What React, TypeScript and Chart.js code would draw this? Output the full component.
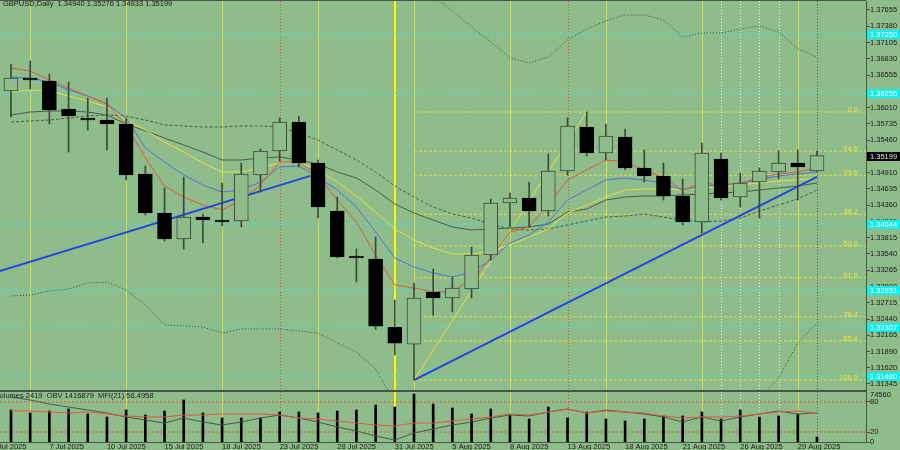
import { useEffect, useRef } from 'react';
import { Chart, registerables } from 'chart.js';

Chart.register(...registerables);

// ---------- data ----------
const DATES = ['3 Jul', '4 Jul', '7 Jul', '8 Jul', '9 Jul', '10 Jul', '11 Jul', '14 Jul', '15 Jul', '16 Jul', '17 Jul', '18 Jul', '21 Jul', '22 Jul', '23 Jul', '24 Jul', '25 Jul', '28 Jul', '29 Jul', '30 Jul', '31 Jul', '1 Aug', '4 Aug', '5 Aug', '6 Aug', '7 Aug', '8 Aug', '11 Aug', '12 Aug', '13 Aug', '14 Aug', '15 Aug', '18 Aug', '19 Aug', '20 Aug', '21 Aug', '22 Aug', '25 Aug', '26 Aug', '27 Aug', '28 Aug', '29 Aug', '1 Sep'];
const OPEN = [1.36288, 1.36508, 1.36457, 1.35985, 1.35833, 1.35799, 1.35732, 1.34888, 1.34230, 1.33791, 1.34163, 1.34112, 1.34095, 1.34871, 1.35276, 1.35765, 1.35074, 1.34264, 1.33505, 1.33454, 1.32302, 1.32015, 1.32897, 1.32796, 1.32948, 1.33521, 1.34399, 1.34483, 1.34264, 1.34939, 1.35681, 1.35242, 1.35512, 1.34989, 1.34854, 1.34517, 1.34078, 1.35141, 1.34500, 1.34753, 1.34922, 1.35074, 1.34940];
const HIGH = [1.36744, 1.36795, 1.36575, 1.36440, 1.36170, 1.36170, 1.35833, 1.35023, 1.34652, 1.34837, 1.34213, 1.34736, 1.35074, 1.35310, 1.35833, 1.35867, 1.35124, 1.34500, 1.33623, 1.33825, 1.32762, 1.33049, 1.33285, 1.33150, 1.33656, 1.34466, 1.34567, 1.34753, 1.35225, 1.35833, 1.35934, 1.35732, 1.35647, 1.35293, 1.35074, 1.34804, 1.35411, 1.35242, 1.34905, 1.34989, 1.35276, 1.35293, 1.35276];
const LOW = [1.35850, 1.36322, 1.35732, 1.35259, 1.35630, 1.35293, 1.34787, 1.34196, 1.33758, 1.33623, 1.33724, 1.34011, 1.33994, 1.34584, 1.35107, 1.35006, 1.34146, 1.33471, 1.33066, 1.32268, 1.31834, 1.31412, 1.32504, 1.32560, 1.32796, 1.33437, 1.33994, 1.33994, 1.34179, 1.34871, 1.35192, 1.35124, 1.34956, 1.34753, 1.34449, 1.34028, 1.33893, 1.34449, 1.34331, 1.34146, 1.34804, 1.34449, 1.34933];
const CLOSE = [1.36508, 1.36474, 1.35968, 1.35867, 1.35799, 1.35732, 1.34871, 1.34230, 1.33791, 1.34163, 1.34112, 1.34078, 1.34888, 1.35276, 1.35765, 1.35074, 1.34331, 1.33488, 1.33471, 1.32319, 1.32032, 1.32796, 1.32796, 1.32965, 1.33521, 1.34399, 1.34483, 1.34264, 1.34939, 1.35698, 1.35242, 1.35529, 1.34989, 1.34854, 1.34517, 1.34078, 1.35242, 1.34483, 1.34736, 1.34939, 1.35074, 1.35006, 1.35199];
const VOLUME = [47712, 43239, 46221, 49203, 41748, 37275, 47712, 40257, 46221, 62622, 43239, 35784, 35784, 35784, 44730, 44730, 43239, 46221, 47712, 55167, 52185, 71568, 56658, 50694, 41748, 49203, 40257, 34293, 52185, 35784, 44730, 34293, 31311, 34293, 38766, 38766, 44730, 34293, 47712, 37275, 38766, 41748, 7455];
const VOL_MAX = 74560;

const MA_RED = [1.36676, 1.36626, 1.36474, 1.36339, 1.36204, 1.36069, 1.35715, 1.35158, 1.34685, 1.34500, 1.34365, 1.34281, 1.34449, 1.34702, 1.35090, 1.35090, 1.34871, 1.34449, 1.34078, 1.33521, 1.33015, 1.32965, 1.32897, 1.32914, 1.33100, 1.33471, 1.33909, 1.33994, 1.34365, 1.34787, 1.34955, 1.35124, 1.35090, 1.34955, 1.34821, 1.34618, 1.34736, 1.34702, 1.34736, 1.34821, 1.34888, 1.34922, 1.34989];
const MA_BLUE = [1.36525, 1.36508, 1.36440, 1.36305, 1.36204, 1.36069, 1.35833, 1.35327, 1.35090, 1.34871, 1.34702, 1.34584, 1.34618, 1.34753, 1.35006, 1.35023, 1.34837, 1.34618, 1.34331, 1.33909, 1.33471, 1.33319, 1.33218, 1.33150, 1.33235, 1.33437, 1.33724, 1.33859, 1.34078, 1.34449, 1.34618, 1.34787, 1.34821, 1.34787, 1.34736, 1.34618, 1.34685, 1.34702, 1.34736, 1.34787, 1.34854, 1.34888, 1.34922];
const MA_YELLOW = [1.36272, 1.36305, 1.36288, 1.36204, 1.36120, 1.36018, 1.35799, 1.35630, 1.35428, 1.35259, 1.35074, 1.34922, 1.34922, 1.34989, 1.35074, 1.35090, 1.34955, 1.34753, 1.34517, 1.34247, 1.33960, 1.33774, 1.33639, 1.33538, 1.33538, 1.33589, 1.33690, 1.33825, 1.33960, 1.34230, 1.34365, 1.34500, 1.34618, 1.34635, 1.34635, 1.34618, 1.34652, 1.34669, 1.34702, 1.34736, 1.34770, 1.34787, 1.34821];
const MA_GRAY = [1.35883, 1.35934, 1.35951, 1.35951, 1.35934, 1.35883, 1.35732, 1.35614, 1.35495, 1.35377, 1.35259, 1.35124, 1.35124, 1.35158, 1.35175, 1.35124, 1.35057, 1.34922, 1.34821, 1.34618, 1.34382, 1.34230, 1.34112, 1.33994, 1.33943, 1.33960, 1.33977, 1.33994, 1.34044, 1.34247, 1.34297, 1.34449, 1.34500, 1.34517, 1.34517, 1.34534, 1.34551, 1.34567, 1.34584, 1.34618, 1.34652, 1.34685, 1.34736];
const MA_DASHED = [1.35765, 1.35782, 1.35799, 1.35833, 1.35867, 1.35883, 1.35867, 1.35799, 1.35715, 1.35698, 1.35681, 1.35681, 1.35698, 1.35698, 1.35681, 1.35580, 1.35462, 1.35293, 1.35124, 1.34922, 1.34685, 1.34500, 1.34331, 1.34213, 1.34146, 1.34044, 1.33960, 1.33943, 1.33960, 1.34028, 1.34095, 1.34162, 1.34179, 1.34213, 1.34162, 1.34112, 1.34078, 1.34095, 1.34146, 1.34264, 1.34365, 1.34466, 1.34618];
const BAND_UPPER = [null, null, null, null, null, null, null, null, null, null, null, null, null, null, null, null, null, null, null, null, 1.38414, 1.38144, 1.37891, 1.37638, 1.37368, 1.37115, 1.36845, 1.36761, 1.36862, 1.37149, 1.37334, 1.37469, 1.37571, 1.37571, 1.37486, 1.37199, 1.37267, 1.37267, 1.37334, 1.37385, 1.37284, 1.36997, 1.36862];
const BAND_LOWER = [1.32830, 1.32846, 1.32914, 1.32948, 1.33049, 1.33066, 1.32931, 1.32678, 1.32340, 1.32323, 1.32307, 1.32205, 1.32273, 1.32273, 1.32273, 1.32239, 1.32205, 1.32037, 1.31885, 1.31598, 1.31041, null, null, null, null, null, null, null, null, null, null, null, null, null, null, null, null, null, null, 1.31092, 1.31446, 1.32037, 1.32374];

const MFI = [90, 84, 76, 70, 64, 58, 50, 44, 38, 48, 40, 34, 40, 48, 54, 48, 40, 30, 22, 12, 4, 18, 26, 34, 40, 48, 54, 52, 60, 66, 58, 64, 60, 56, 50, 40, 50, 42, 50, 56, 62, 56, 58.5];
const OBV_LINE = [62, 62, 60, 58, 60, 56, 52, 50, 50, 54, 54, 56, 56, 56, 54, 48, 46, 42, 38, 34, 32, 38, 38, 42, 46, 50, 56, 54, 60, 66, 58, 62, 60, 58, 52, 48, 50, 50, 52, 56, 60, 62, 58];
const MFI_LEVELS = [80, 20];
const MFI_TICKS = [0, 20, 80];

const PRICE_TICKS = [1.37655, 1.37380, 1.37105, 1.36830, 1.36555, 1.36280, 1.36010, 1.35735, 1.35460, 1.35185, 1.34910, 1.34635, 1.34360, 1.34085, 1.33815, 1.33540, 1.33265, 1.32990, 1.32715, 1.32440, 1.32165, 1.31890, 1.31620, 1.31345];
const CYAN_LEVELS = [1.37250, 1.36255, 1.34044, 1.32931, 1.32307, 1.31480];
const FIB_HIGH = 1.35934;
const FIB_LOW = 1.31412;
const FIB_RATIOS = [0, 14.6, 23.6, 38.2, 50, 61.8, 76.4, 85.4, 100];
const FIB_START_BAR = 21;
const FIB_HIGH_BAR = 30;
const TREND_A_X = [-1, 15.6];
const TREND_A_Y = [1.33209, 1.34857];
const TREND_B_X = [21, 42];
const TREND_B_Y = [1.31412, 1.34840];

const AXIS_DATE_INDEX = [-1, 2, 5, 8, 11, 14, 17, 20, 23, 26, 29, 32, 35, 38, 41];
const AXIS_DATES = ['2 Jul 2025', '7 Jul 2025', '10 Jul 2025', '15 Jul 2025', '18 Jul 2025', '23 Jul 2025', '28 Jul 2025', '31 Jul 2025', '5 Aug 2025', '8 Aug 2025', '13 Aug 2025', '18 Aug 2025', '21 Aug 2025', '26 Aug 2025', '29 Aug 2025'];

const FRIDAY_BARS = [1, 6, 11, 16, 21, 26, 31, 36, 41];
const MONTH_END_BARS = [20];
const RED_MARK_BARS = [14, 29];
const WHITE_MARK_BARS = [37, 38, 39, 40];
const CURRENT_BAR = 42;

const TITLE = 'GBPUSD,Daily  1.34940 1.35276 1.34933 1.35199';
const SUB_TITLE = 'Volumes 2419  OBV 1416879  MFI(21) 58.4958';

// ---------- layout / style ----------
const XMIN = -0.5732;
const XMAX = 44.554;
const YMIN = 1.312268;
const YMAX = 1.378068;

const BG = '#8fbc8b';
const DARK = '#465646';
const TEXT = '#1a1a1a';
const WICK = '#3a4a3a';
const FONT = '"Liberation Sans", Arial, sans-serif';
const FONT_SIZE = 7.5;

function drawVerticals(ctx: any, xs: any, top: number, bottom: number) {
  const v = (i: number, color: string, width: number, dash: number[]) => {
    const px = Math.round(xs.getPixelForValue(i)) + (width % 2 ? 0.5 : 0);
    ctx.save();
    ctx.strokeStyle = color;
    ctx.lineWidth = width;
    ctx.setLineDash(dash);
    ctx.beginPath();
    ctx.moveTo(px, top);
    ctx.lineTo(px, bottom);
    ctx.stroke();
    ctx.restore();
  };
  FRIDAY_BARS.forEach((i) => v(i, '#dcdc3c', 1, []));
  MONTH_END_BARS.forEach((i) => v(i, '#ffff00', 2, []));
  RED_MARK_BARS.forEach((i) => v(i, '#d8503a', 1, [1, 2]));
  WHITE_MARK_BARS.forEach((i) => v(i, '#e6f2e0', 1, [1, 2]));
  v(CURRENT_BAR, '#4a5a4a', 1, [1, 2]);
}

const mainDecor = {
  id: 'mainDecor',
  beforeDatasetsDraw(chart: any) {
    const { ctx, chartArea, scales } = chart;
    drawVerticals(ctx, scales.x, chartArea.top, chartArea.bottom);
  },
  afterDraw(chart: any) {
    const { ctx, chartArea, scales } = chart;
    const ys = scales.y;
    ctx.save();
    ctx.font = `${FONT_SIZE}px ${FONT}`;
    // fib labels
    ctx.fillStyle = '#e6e640';
    ctx.textAlign = 'right';
    ctx.textBaseline = 'middle';
    FIB_RATIOS.forEach((r) => {
      const y = ys.getPixelForValue(FIB_HIGH - (FIB_HIGH - FIB_LOW) * r / 100);
      ctx.fillText(r.toFixed(1), chartArea.right - 8, y - 2);
    });
    // cyan level labels
    ctx.textAlign = 'left';
    CYAN_LEVELS.forEach((p) => {
      const y = Math.round(ys.getPixelForValue(p));
      ctx.fillStyle = '#10eeee';
      ctx.fillRect(chartArea.right + 1, y - 4, 34, 9);
      ctx.fillStyle = '#ffffff';
      ctx.fillText(p.toFixed(5), chartArea.right + 4, y + 0.5);
    });
    // current price
    const last = CLOSE[CLOSE.length - 1];
    const yc = Math.round(ys.getPixelForValue(last));
    ctx.fillStyle = '#000000';
    ctx.fillRect(chartArea.right + 1, yc - 4, 34, 9);
    ctx.fillStyle = '#e8e8e8';
    ctx.fillText(last.toFixed(5), chartArea.right + 4, yc + 0.5);
    // title
    ctx.fillStyle = TEXT;
    ctx.fillText(TITLE, 3, 4);
    // frame
    ctx.fillStyle = DARK;
    ctx.fillRect(0, 0, chartArea.right, 1);
    ctx.fillRect(0, chartArea.bottom - 1, chartArea.right + 1, 2);
    ctx.restore();
  },
};

const subDecor = {
  id: 'subDecor',
  beforeDatasetsDraw(chart: any) {
    const { ctx, chartArea, scales } = chart;
    drawVerticals(ctx, scales.x, chartArea.top, chartArea.bottom);
  },
  afterDraw(chart: any) {
    const { ctx, chartArea, scales } = chart;
    ctx.save();
    ctx.font = `${FONT_SIZE}px ${FONT}`;
    ctx.fillStyle = TEXT;
    ctx.textAlign = 'left';
    ctx.textBaseline = 'middle';
    ctx.fillText(SUB_TITLE, -5, 3.5);
    ctx.fillText(String(VOL_MAX), chartArea.right + 4, scales.yv.getPixelForValue(VOL_MAX) + 3);
    ctx.restore();
  },
};

const lineDs = (data: any[], color: string, extra: any = {}) => ({
  type: 'line',
  data,
  borderColor: color,
  borderWidth: 1,
  pointRadius: 0,
  fill: false,
  tension: 0,
  spanGaps: false,
  order: 6,
  ...extra,
});

export default function App() {
  const mainRef = useRef<HTMLCanvasElement>(null);
  const subRef = useRef<HTMLCanvasElement>(null);

  useEffect(() => {
    Chart.defaults.font.family = FONT;
    Chart.defaults.font.size = FONT_SIZE;
    const idx = DATES.map((_, i) => i);
    const series = (arr: (number | null)[]) => idx.map((i) => ({ x: i, y: arr[i] }));
    const flat = (p: number, from: number) => [{ x: from, y: p }, { x: XMAX, y: p }];
    const tickFont = { family: FONT, size: FONT_SIZE };

    const mainDatasets: any[] = [
      {
        type: 'bar',
        data: idx.map((i) => ({ x: i, y: [OPEN[i], CLOSE[i]] })),
        backgroundColor: idx.map((i) => (CLOSE[i] >= OPEN[i] ? BG : '#000000')),
        borderColor: idx.map((i) => (CLOSE[i] >= OPEN[i] ? WICK : '#000000')),
        borderWidth: 1,
        borderSkipped: false,
        grouped: false,
        barThickness: 14,
        maxBarThickness: 14,
        order: 0,
      },
      {
        type: 'bar',
        data: idx.map((i) => ({ x: i, y: [LOW[i], HIGH[i]] })),
        backgroundColor: WICK,
        grouped: false,
        barThickness: 1,
        maxBarThickness: 1,
        order: 1,
      },
      lineDs(TREND_A_X.map((x, k) => ({ x, y: TREND_A_Y[k] })), '#2244e6', { borderWidth: 2, order: 3 }),
      lineDs(TREND_B_X.map((x, k) => ({ x, y: TREND_B_Y[k] })), '#2244e6', { borderWidth: 2, order: 3 }),
      lineDs(series(MA_RED), '#e0583c', { order: 4 }),
      lineDs(series(MA_BLUE), '#4c74dc', { order: 5 }),
      lineDs(series(MA_YELLOW), '#e2e23a', { order: 6 }),
      lineDs(series(MA_GRAY), '#4a5a4a', { order: 7 }),
      lineDs(series(MA_DASHED), '#4a5a4a', { order: 7, borderDash: [3, 2] }),
      lineDs(series(BAND_UPPER), '#3c4c3c', { order: 7, borderDash: [1, 2] }),
      lineDs(series(BAND_LOWER), '#3c4c3c', { order: 7, borderDash: [1, 2] }),
      lineDs([{ x: FIB_START_BAR, y: FIB_LOW }, { x: FIB_HIGH_BAR, y: FIB_HIGH }], '#e2e23a', { order: 8 }),
      ...FIB_RATIOS.map((r) => lineDs(flat(FIB_HIGH - (FIB_HIGH - FIB_LOW) * r / 100, FIB_START_BAR), '#dede3c', { order: 9, borderDash: [3, 2] })),
      ...CYAN_LEVELS.map((p) => lineDs(flat(p, XMIN), '#3ee6d2', { order: 9, borderDash: [4, 3] })),
    ];

    const main = new Chart(mainRef.current as HTMLCanvasElement, {
      type: 'bar',
      data: { datasets: mainDatasets },
      options: {
        responsive: false,
        animation: false,
        devicePixelRatio: 1,
        layout: { padding: { top: 1, bottom: 1, left: 0, right: 0 } },
        plugins: { legend: { display: false }, tooltip: { enabled: false } },
        scales: {
          x: { type: 'linear', min: XMIN, max: XMAX, offset: false, display: false },
          y: {
            type: 'linear',
            position: 'right',
            min: YMIN,
            max: YMAX,
            afterBuildTicks: (s: any) => { s.ticks = PRICE_TICKS.map((v) => ({ value: v })); },
            afterFit: (s: any) => { s.width = 34; s.paddingTop = 0; s.paddingBottom = 0; },
            ticks: { callback: (v: any) => Number(v).toFixed(5), padding: 0, color: TEXT, font: tickFont, autoSkip: false },
            grid: { drawOnChartArea: false, drawTicks: true, tickLength: 4, color: DARK },
            border: { display: true, color: DARK },
          },
        },
      } as any,
      plugins: [mainDecor],
    } as any);

    const sub = new Chart(subRef.current as HTMLCanvasElement, {
      type: 'bar',
      data: {
        datasets: [
          {
            type: 'bar',
            data: idx.map((i) => ({ x: i, y: VOLUME[i] })),
            yAxisID: 'yv',
            backgroundColor: '#000000',
            grouped: false,
            barThickness: 2,
            maxBarThickness: 2,
            order: 3,
          },
          lineDs(series(MFI), '#4a5a4a', { yAxisID: 'ym', order: 1 }),
          lineDs(series(OBV_LINE), '#e0583c', { yAxisID: 'ym', order: 0 }),
          ...MFI_LEVELS.map((l) => lineDs(flat(l, XMIN), '#e0583c', { yAxisID: 'ym', order: 4, borderDash: [2, 2] })),
        ] as any[],
      },
      options: {
        responsive: false,
        animation: false,
        devicePixelRatio: 1,
        layout: { padding: 0 },
        plugins: { legend: { display: false }, tooltip: { enabled: false } },
        scales: {
          x: {
            type: 'linear',
            min: XMIN,
            max: XMAX,
            offset: false,
            position: 'bottom',
            afterBuildTicks: (s: any) => { s.ticks = AXIS_DATE_INDEX.map((v) => ({ value: v })); },
            afterFit: (s: any) => { s.height = 8; s.paddingLeft = 0; s.paddingRight = 0; },
            ticks: {
              callback: (_v: any, k: number) => AXIS_DATES[k],
              align: 'start',
              maxRotation: 0,
              minRotation: 0,
              autoSkip: false,
              padding: 0,
              color: TEXT,
              font: tickFont,
            },
            grid: { display: false, drawTicks: false, tickLength: 0 },
            border: { display: true, color: DARK },
          },
          ym: {
            type: 'linear',
            position: 'right',
            min: 0,
            max: 100,
            afterBuildTicks: (s: any) => { s.ticks = MFI_TICKS.map((v) => ({ value: v })); },
            afterFit: (s: any) => { s.width = 34; s.paddingTop = 0; s.paddingBottom = 0; },
            ticks: { padding: 0, color: TEXT, font: tickFont, autoSkip: false },
            grid: { drawOnChartArea: false, drawTicks: true, tickLength: 4, color: DARK },
            border: { display: true, color: DARK },
          },
          yv: { type: 'linear', display: false, min: 0, max: VOL_MAX },
        },
      } as any,
      plugins: [subDecor],
    } as any);

    return () => {
      main.destroy();
      sub.destroy();
    };
  }, []);

  return (
    <div style={{ position: 'absolute', left: 0, top: 0, width: 900, height: 450, background: BG, overflow: 'hidden' }}>
      <canvas ref={mainRef} width={900} height={392} style={{ position: 'absolute', left: 0, top: 0 }} />
      <canvas ref={subRef} width={900} height={58} style={{ position: 'absolute', left: 0, top: 392 }} />
    </div>
  );
}
